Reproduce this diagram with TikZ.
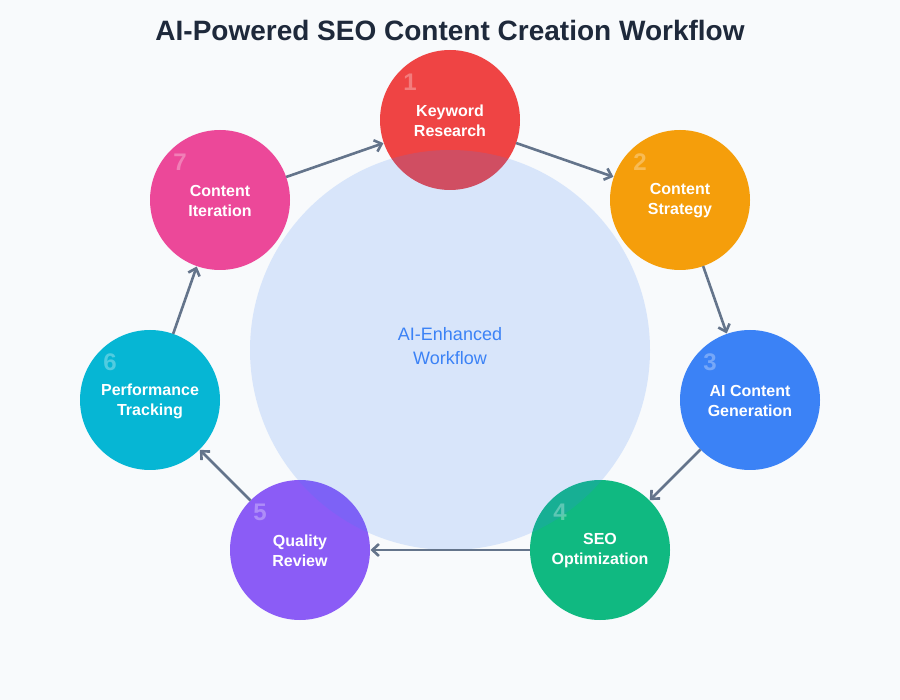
\documentclass[tikz,border=0pt]{standalone}
\usepackage{fontspec}
\setmainfont{Liberation Sans}
\usetikzlibrary{arrows.meta}
\definecolor{bgc}{HTML}{F8FAFC}
\definecolor{titlec}{HTML}{1E293B}
\definecolor{arrc}{HTML}{64748B}
\definecolor{cred}{HTML}{EF4444}
\definecolor{corange}{HTML}{F59E0B}
\definecolor{cblue}{HTML}{3B82F6}
\definecolor{cgreen}{HTML}{10B981}
\definecolor{cpurple}{HTML}{8B5CF6}
\definecolor{ccyan}{HTML}{06B6D4}
\definecolor{cpink}{HTML}{EC4899}
\tikzset{
  stepcircle/.style={circle, minimum size=140pt, inner sep=0pt, outer sep=0pt, fill=#1},
  steplabel/.style={text=white, font=\bfseries\fontsize{16}{20}\selectfont, align=center, inner sep=0pt},
  stepnum/.style={text=white, text opacity=0.3, font=\bfseries\fontsize{24}{28}\selectfont, inner sep=0pt},
  flowarrow/.style={draw=arrc, line width=2.6pt, -{Straight Barb[length=6.5pt,width=12pt]}, shorten >=0.5pt},
}
\begin{document}
\begin{tikzpicture}[x=1pt,y=-1pt]
\fill[bgc] (0,0) rectangle (900,700);
\useasboundingbox (0,0) rectangle (900,700);
\node[text=titlec, font=\bfseries\fontsize{28}{32}\selectfont] (title) at (450,30) {AI-Powered SEO Content Creation Workflow};

\node[stepcircle=cred] (c1) at (450,120) {};
\node[stepcircle=corange] (c2) at (680,200) {};
\node[stepcircle=cblue] (c3) at (750,400) {};
\node[stepcircle=cgreen] (c4) at (600,550) {};
\node[stepcircle=cpurple] (c5) at (300,550) {};
\node[stepcircle=ccyan] (c6) at (150,400) {};
\node[stepcircle=cpink] (c7) at (220,200) {};

\node[circle, minimum size=400pt, inner sep=0pt, fill=cblue, fill opacity=0.17] (center) at (450,350) {};
\node[text=cblue, font=\fontsize{18}{24}\selectfont, align=center, inner sep=0pt] (centertext) at (450,346) {AI-Enhanced\\Workflow};

\node[steplabel] (l1) at (450,121) {Keyword\\Research};
\node[steplabel] (l2) at (680,201) {Content\\Strategy};
\node[steplabel] (l3) at (750,401) {AI Content\\Generation};
\node[steplabel] (l4) at (600,551) {SEO\\Optimization};
\node[steplabel] (l5) at (300,551) {Quality\\Review};
\node[steplabel] (l6) at (150,401) {Performance\\Tracking};
\node[steplabel] (l7) at (220,201) {Content\\Iteration};

\node[stepnum] (n1) at (410,82) {1};
\node[stepnum] (n2) at (640,162) {2};
\node[stepnum] (n3) at (710,362) {3};
\node[stepnum] (n4) at (560,512) {4};
\node[stepnum] (n5) at (260,512) {5};
\node[stepnum] (n6) at (110,362) {6};
\node[stepnum] (n7) at (180,162) {7};

\draw[flowarrow] (c1) -- (c2);
\draw[flowarrow] (c2) -- (c3);
\draw[flowarrow] (c3) -- (c4);
\draw[flowarrow] (c4) -- (c5);
\draw[flowarrow] (c5) -- (c6);
\draw[flowarrow] (c6) -- (c7);
\draw[flowarrow] (c7) -- (c1);
\end{tikzpicture}
\end{document}
